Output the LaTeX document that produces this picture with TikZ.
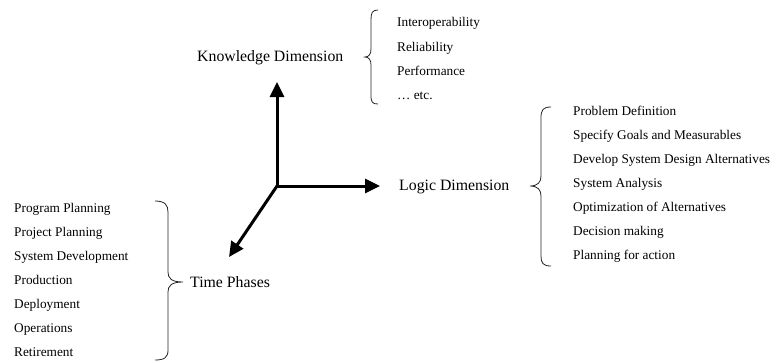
\documentclass[tikz,border=0pt]{standalone}
\usepackage{fontspec}
\setmainfont{Liberation Serif}
\usetikzlibrary{arrows.meta}
\begin{document}
\begin{tikzpicture}[x=1pt,y=-1pt,
  axis/.style={line width=3pt,-{Triangle[length=15pt,width=14pt]}},
  bracepath/.style={line width=0.8pt,draw=black!85},
  dimlabel/.style={anchor=base west,inner sep=0pt,font=\fontsize{15.8}{18}\selectfont},
  item/.style={anchor=base west,inner sep=0pt,font=\fontsize{13.3}{15}\selectfont}]
\useasboundingbox (0,0) rectangle (776,362);

% axes
\coordinate (o) at (277,186);
\coordinate (kx) at (277,82);
\coordinate (lx) at (380,186);
\coordinate (tx) at (229,257);
\draw[axis] (o) -- (kx);
\draw[axis] (o) -- (lx);
\draw[axis] (o) -- (tx);

% dimension labels
\node[dimlabel] (know) at (197,61) {Knowledge Dimension};
\node[dimlabel] (logic) at (399,190) {Logic Dimension};
\node[dimlabel] (time) at (190,287) {Time Phases};

% knowledge items
\node[item] (k1) at (397,26) {Interoperability};
\node[item] (k2) at (397,51) {Reliability};
\node[item] (k3) at (397,75) {Performance};
\node[item] (k4) at (397,99) {\dots\ etc.};

% logic items
\foreach \t [count=\i from 0] in {Problem Definition,Specify Goals and Measurables,Develop System Design Alternatives,System Analysis,Optimization of Alternatives,Decision making,Planning for action}
  \node[item] (l\i) at (573,115+24*\i) {\t};

% time items
\foreach \t [count=\i from 0] in {Program Planning,Project Planning,System Development,Production,Deployment,Operations,Retirement}
  \node[item] (t\i) at (14,212+24*\i) {\t};

% braces
\draw[bracepath] (378,10) .. controls (372,10) and (371,13) .. (371,20)
  -- (371,49) .. controls (371,54) and (369,57) .. (365,57)
  .. controls (369,57) and (371,60) .. (371,65)
  -- (371,95) .. controls (371,102) and (372,104) .. (378,104);
\draw[bracepath] (551,107) .. controls (543,107) and (541,110) .. (541,118)
  -- (541,176) .. controls (541,182) and (538,186) .. (530,186)
  .. controls (538,186) and (541,190) .. (541,196)
  -- (541,256) .. controls (541,263) and (543,266) .. (551,266);
\draw[bracepath] (155,201) .. controls (165,201) and (168,205) .. (168,212)
  -- (168,272) .. controls (168,278) and (171,282) .. (183,282)
  .. controls (171,282) and (168,286) .. (168,292)
  -- (168,350) .. controls (168,357) and (165,360) .. (155,360);
\end{tikzpicture}
\end{document}
